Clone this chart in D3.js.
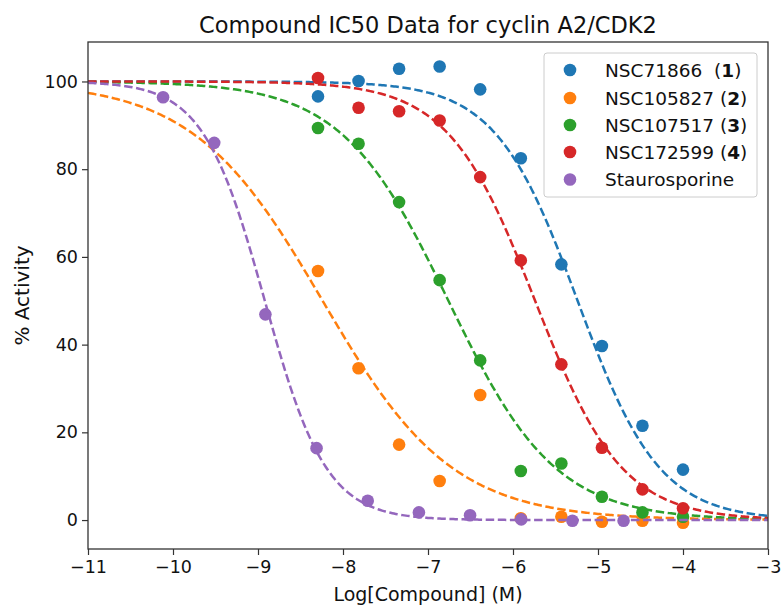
<!DOCTYPE html>
<html>
<head>
<meta charset="utf-8">
<script src="https://cdn.jsdelivr.net/npm/d3@7"></script>
<style>
  body { margin: 0; background: #fff; }
  text { font-family: "DejaVu Sans", sans-serif; }
</style>
</head>
<body>
<svg id="chart"></svg>
<script>
// log10 molar doses (3-fold and 4-fold dilution series)
const doses3 = [-8.294, -7.817, -7.340, -6.863, -6.386, -5.908, -5.431, -4.954, -4.477, -4.000];
const doses4 = [-10.117, -9.515, -8.913, -8.311, -7.709, -7.107, -6.505, -5.903, -5.301, -4.699];

const names = ["NSC71866", "NSC105827", "NSC107517", "NSC172599", "Staurosporine"];
const labelNums = ["1", "2", "3", "4", ""];
const colors = ["#1f77b4", "#ff7f0e", "#2ca02c", "#d62728", "#9467bd"];

// % activity
const act71866 = [96.6, 100.1, 102.9, 103.4, 98.2, 82.5, 58.3, 39.7, 21.5, 11.5];
const act105827 = [56.8, 34.6, 17.2, 8.9, 28.5, 0.4, 0.75, -0.4, -0.15, -0.6];
const act107517 = [89.4, 85.8, 72.5, 54.7, 36.4, 11.2, 12.9, 5.3, 1.75, 0.75];
const act172599 = [100.8, 94.0, 93.2, 91.1, 78.2, 59.2, 35.5, 16.5, 7.0, 2.7];
const actStauro = [96.4, 86.0, 46.9, 16.4, 4.4, 1.75, 1.1, 0.15, -0.15, -0.15];

// fitted curve parameters (estimated from the dashed lines)
const logIC50 = [-5.24, -8.24, -6.76, -5.74, -8.92];
const hill = [0.9, 0.57, 0.69, 0.85, 1.2];
const fitTop = [100, 100, 100, 100, 100];
const fitBottom = [0, 0, 0, 0, 0];

const xTicks = [-11, -10, -9, -8, -7, -6, -5, -4, -3];
const yTicks = [0, 20, 40, 60, 80, 100];

const seriesX = [doses3, doses3, doses3, doses3, doses4];
const seriesY = [act71866, act105827, act107517, act172599, actStauro];

const width = 781, height = 606;
const margin = { left: 88, right: 13, top: 42, bottom: 57 };

const svg = d3.select("#chart").attr("width", width).attr("height", height);

const x = d3.scaleLinear().domain([-11, -3]).range([margin.left, width - margin.right]);
const y = d3.scaleLinear().domain([-6.6, 109]).range([height - margin.bottom, margin.top]);

// axes
svg.append("g")
  .attr("transform", `translate(0,${height - margin.bottom})`)
  .call(d3.axisBottom(x).tickValues(xTicks).tickSize(6).tickPadding(6))
  .call(g => g.select(".domain").remove())
  .call(g => g.selectAll("line").attr("stroke", "#333").attr("stroke-width", 1.2))
  .call(g => g.selectAll("text").attr("font-size", 17.5).attr("fill", "#111")
    .attr("font-family", "DejaVu Sans"));

svg.append("g")
  .attr("transform", `translate(${margin.left},0)`)
  .call(d3.axisLeft(y).tickValues(yTicks).tickSize(6).tickPadding(4))
  .call(g => g.select(".domain").remove())
  .call(g => g.selectAll("line").attr("stroke", "#333").attr("stroke-width", 1.2))
  .call(g => g.selectAll("text").attr("font-size", 17.5).attr("fill", "#111")
    .attr("font-family", "DejaVu Sans"));

// curves
const line = d3.line().x(d => x(d[0])).y(d => y(d[1]));
const xs = d3.range(-11, -2.999, 0.02);

const plot = svg.append("g");
names.forEach((n, i) => {
  const pts = seriesX[i].map((d, j) => [d, seriesY[i][j]]);
  plot.selectAll(null).data(pts).enter().append("circle")
    .attr("cx", d => x(d[0])).attr("cy", d => y(d[1]))
    .attr("r", 6.3).attr("fill", colors[i]);
  const curve = xs.map(v => [v, fitBottom[i] + (fitTop[i] - fitBottom[i]) / (1 + Math.pow(10, (v - logIC50[i]) * hill[i]))]);
  plot.append("path").datum(curve).attr("d", line)
    .attr("fill", "none").attr("stroke", colors[i])
    .attr("stroke-width", 2.5).attr("stroke-dasharray", "8.5,3.6");
});

// frame
svg.append("rect")
  .attr("x", margin.left).attr("y", margin.top)
  .attr("width", width - margin.left - margin.right)
  .attr("height", height - margin.top - margin.bottom)
  .attr("fill", "none").attr("stroke", "#333").attr("stroke-width", 1.3);

// title and labels
svg.append("text").attr("x", (margin.left + width - margin.right) / 2).attr("y", 33)
  .attr("text-anchor", "middle").attr("font-size", 22.5).attr("fill", "#111")
  .text("Compound IC50 Data for cyclin A2/CDK2");

svg.append("text").attr("x", (margin.left + width - margin.right) / 2).attr("y", 601)
  .attr("text-anchor", "middle").attr("font-size", 19).attr("fill", "#111")
  .text("Log[Compound] (M)");

svg.append("text")
  .attr("transform", `translate(29,${(margin.top + height - margin.bottom) / 2}) rotate(-90)`)
  .attr("text-anchor", "middle").attr("font-size", 20).attr("fill", "#111")
  .text("% Activity");

// legend
const lg = svg.append("g");
lg.append("rect").attr("x", 544).attr("y", 53).attr("width", 213).attr("height", 144)
  .attr("rx", 3).attr("fill", "rgba(255,255,255,0.8)").attr("stroke", "#ccc").attr("stroke-width", 1);

const rowY = [70, 98, 125, 152, 179.5];
names.forEach((n, i) => {
  lg.append("circle").attr("cx", 570).attr("cy", rowY[i]).attr("r", 6.3).attr("fill", colors[i]);
  const t = lg.append("text").attr("x", 605).attr("y", rowY[i] + 6.5)
    .attr("font-size", 18.5).attr("fill", "#111").attr("xml:space", "preserve");
  if (labelNums[i]) {
    t.append("tspan").text(n + (i === 0 ? "  (" : " ("));
    t.append("tspan").attr("font-weight", "bold").text(labelNums[i]);
    t.append("tspan").text(")");
  } else {
    t.text(n);
  }
});
</script>
</body>
</html>
